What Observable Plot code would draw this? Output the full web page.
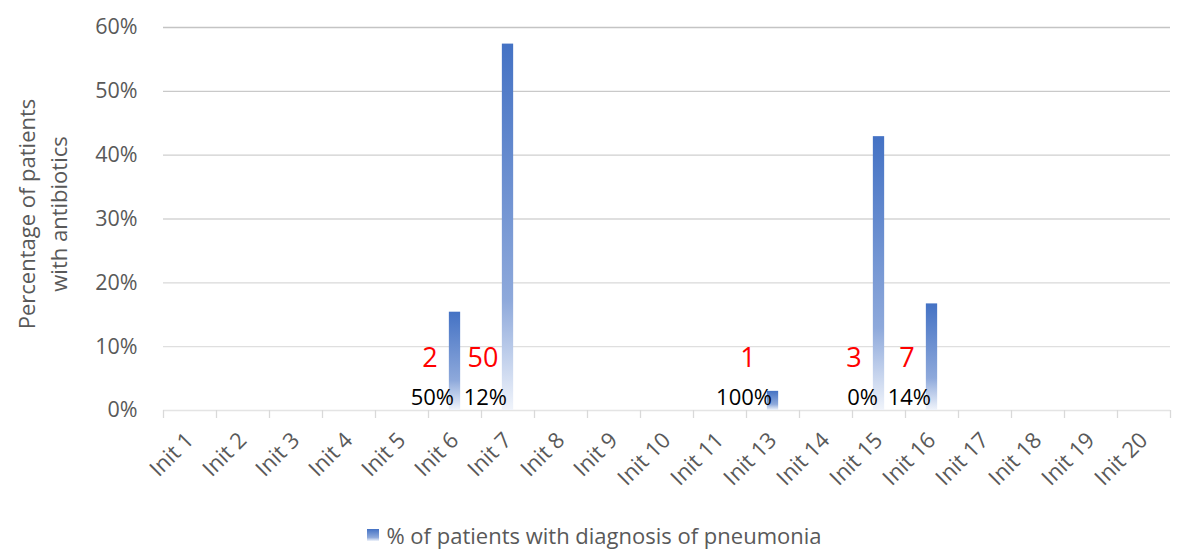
<!DOCTYPE html>
<html>
<head>
<meta charset="utf-8">
<script src="https://cdn.jsdelivr.net/npm/d3@7"></script>
<script src="https://cdn.jsdelivr.net/npm/@observablehq/plot@0.6"></script>
<style>
  html, body { margin: 0; padding: 0; background: #fff; }
  #chart svg { display: block; }
  #legend {
    height: 49px; display: flex; justify-content: center; align-items: center;
    font-family: "Open Sans", sans-serif; font-size: 22px; color: #595959;
    padding-right: 11px;
  }
  #legend .sw {
    width: 12px; height: 12px; margin-right: 7px;
    background: linear-gradient(#4472C4, #8EA9DB 70%, #F0F4FB);
  }
</style>
</head>
<body>
<div id="chart"></div>
<div id="legend"><span class="sw"></span><span>% of patients with diagnosis of pneumonia</span></div>
<script>
const categories = ["Init 1","Init 2","Init 3","Init 4","Init 5","Init 6","Init 7","Init 8","Init 9","Init 10",
  "Init 11","Init 13","Init 14","Init 15","Init 16","Init 17","Init 18","Init 19","Init 20"];
const barCategories = ["Init 6","Init 7","Init 13","Init 15","Init 16"];
const barValues = [0.154, 0.574, 0.030, 0.429, 0.167];
const counts = [2, 50, 1, 3, 7];
const pctLabels = ["50%", "12%", "100%", "0%", "14%"];
const yTicks = [0, 0.1, 0.2, 0.3, 0.4, 0.5, 0.6];
const yTitle = "Percentage of patients\nwith antibiotics";

const data = barCategories.map((c, i) => ({cat: c, value: barValues[i], count: counts[i], pct: pctLabels[i]}));

const W = 1200, H = 510, ML = 163, MR = 30, MT = 27, MB = 100;
const step = (W - ML - MR) / categories.length;
const barW = 11.3;
const inset = (step - barW) / 2;
const gridColor = d3.interpolateRgb("#e4e4e4", "#c4c4c4");

const chart = Plot.plot({
  width: W, height: H,
  marginLeft: ML, marginRight: MR, marginTop: MT, marginBottom: MB,
  style: {fontFamily: "'Open Sans', sans-serif", color: "#595959", background: "#fff"},
  x: {type: "band", domain: categories, padding: 0},
  y: {domain: [0, 0.6]},
  color: {type: "identity"},
  marks: [
    Plot.ruleY(yTicks, {y: d => d, stroke: d => gridColor(d / 0.6), strokeWidth: 1.3}),
    Plot.ruleX(categories, {x: d => d, dx: -step / 2, y1: 0, y2: 0, insetBottom: -8, stroke: "#d9d9d9", strokeWidth: 1.3}),
    Plot.ruleX(categories.slice(-1), {x: d => d, dx: step / 2, y1: 0, y2: 0, insetBottom: -8, stroke: "#d9d9d9", strokeWidth: 1.3}),
    Plot.barY(data, {x: "cat", y: "value", fill: "url(#barGrad)", insetLeft: inset, insetRight: inset}),
    Plot.text(data, {x: "cat", y: 0, text: d => String(d.count), fill: "#FF0000", fontSize: 27, dx: -25, dy: -52}),
    Plot.text(data, {x: "cat", y: 0, text: "pct", fill: "#000", fontSize: 22, textAnchor: "end", dx: -1, dy: -13}),
    Plot.axisY({ticks: yTicks, tickFormat: d3.format(".0%"), tickSize: 0, tickPadding: 26, fontSize: 21.5, label: null}),
    Plot.axisX({tickSize: 0, tickRotate: -45, tickPadding: 26, fontSize: 22, label: null}),
    Plot.text([yTitle], {text: d => d, frameAnchor: "left", textAnchor: "middle", rotate: -90, dx: -123, dy: -5, fontSize: 22, lineHeight: 1.45, fill: "#595959"})
  ]
});

const defs = d3.select(chart).insert("defs", ":first-child");
const grad = defs.append("linearGradient").attr("id", "barGrad")
  .attr("x1", 0).attr("y1", 0).attr("x2", 0).attr("y2", 1);
grad.append("stop").attr("offset", "0%").attr("stop-color", "#4472C4");
grad.append("stop").attr("offset", "70%").attr("stop-color", "#8EA9DB");
grad.append("stop").attr("offset", "100%").attr("stop-color", "#F0F4FB");

document.getElementById("chart").appendChild(chart);
</script>
</body>
</html>
